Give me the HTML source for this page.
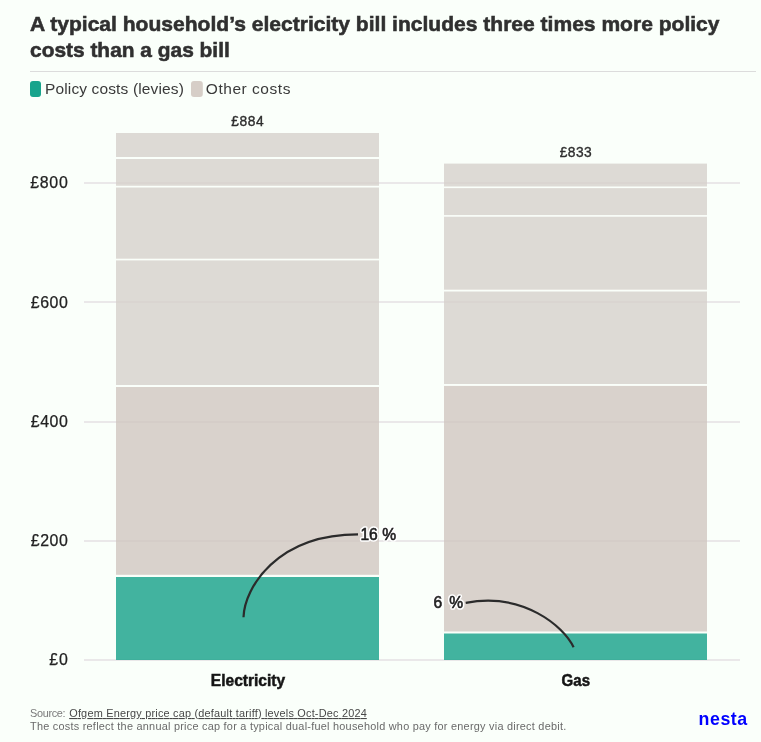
<!DOCTYPE html>
<html lang="en">
<head>
<meta charset="utf-8">
<title>A typical household’s electricity bill includes three times more policy costs than a gas bill</title>
<style>
  html, body { margin: 0; padding: 0; background: #fafffa; }
  body { width: 761px; height: 742px; overflow: hidden; }
  svg { display: block; will-change: transform; font-family: "Liberation Sans", Arial, sans-serif; }
  .t { font-weight: 700; font-size: 20.8px; fill: #303030; stroke: #303030; stroke-width: 0.55px; }
  .lg { font-size: 15.5px; fill: #3a3a3a; }
  .ax { font-size: 15.9px; fill: #222222; stroke: #222222; stroke-width: 0.25px; }
  .tot { font-size: 13.8px; fill: #2e2e2e; stroke: #2e2e2e; stroke-width: 0.35px; }
  .xl { font-size: 16.2px; font-weight: 700; fill: #151515; stroke: #151515; stroke-width: 0.5px; }
  .an { font-size: 15.6px; font-weight: 400; fill: #1e1e1e; stroke: #1e1e1e; stroke-width: 0.6px; }
  .halo { stroke: #ffffff; stroke-width: 3.6px; stroke-linejoin: round; fill: #ffffff; }
  .ft { font-size: 10.9px; fill: #7a7a7a; }
  .fl { fill: #484848; text-decoration: underline; }
  .f2 { fill: #6a6a6a; }
  .logo { font-size: 17.8px; font-weight: 700; fill: #0000ff; }
</style>
</head>
<body>
<svg width="761" height="742" viewBox="0 0 761 742">
  <rect x="0" y="0" width="761" height="742" fill="#fafffa"/>

  <!-- Title -->
  <text class="t" x="30" y="30.8" textLength="689.5" lengthAdjust="spacingAndGlyphs">A typical household’s electricity bill includes three times more policy</text>
  <text class="t" x="30" y="57" textLength="199.8" lengthAdjust="spacingAndGlyphs">costs than a gas bill</text>

  <!-- rule -->
  <rect x="30" y="71" width="726" height="1" fill="#dcdcdc"/>

  <!-- legend -->
  <rect x="30" y="81" width="11" height="16" rx="3" fill="#18a48c"/>
  <text class="lg" x="45" y="93.7" textLength="138.8" lengthAdjust="spacing">Policy costs (levies)</text>
  <rect x="191" y="81" width="11.8" height="16" rx="3" fill="#d6cec7"/>
  <text class="lg" x="205.8" y="93.9" textLength="84.6" lengthAdjust="spacing">Other costs</text>

  <!-- gridlines -->
  <g fill="#eae8e9">
    <rect x="84" y="659" width="656" height="2"/>
    <rect x="84" y="540" width="656" height="2"/>
    <rect x="84" y="421" width="656" height="2"/>
    <rect x="84" y="301" width="656" height="2"/>
    <rect x="84" y="182" width="656" height="2"/>
  </g>

  <!-- y axis labels -->
  <g class="ax" text-anchor="end">
    <text x="67.8" y="665.2" textLength="18.6">£0</text>
    <text x="67.8" y="545.9" textLength="37">£200</text>
    <text x="67.8" y="426.7" textLength="37">£400</text>
    <text x="67.8" y="307.8" textLength="37">£600</text>
    <text x="67.8" y="187.9" textLength="37.6">£800</text>
  </g>

  <!-- Electricity bar -->
  <g opacity="0.8">
    <rect x="116" y="133" width="263" height="24" fill="#d7d1cc"/>
    <rect x="116" y="159" width="263" height="26.8" fill="#d7d1cc"/>
    <rect x="116" y="187.5" width="263" height="71.2" fill="#d7d1cc"/>
    <rect x="116" y="260.4" width="263" height="124.6" fill="#d7d1cc"/>
    <rect x="116" y="387" width="263" height="187.8" fill="#d1c7c1"/>
    <rect x="116" y="577" width="263" height="83" fill="#15a189"/>
  </g>
  <!-- Gas bar -->
  <g opacity="0.8">
    <rect x="444" y="163.6" width="263" height="22.9" fill="#d7d1cc"/>
    <rect x="444" y="188.1" width="263" height="27" fill="#d7d1cc"/>
    <rect x="444" y="216.7" width="263" height="73" fill="#d7d1cc"/>
    <rect x="444" y="291.5" width="263" height="92.5" fill="#d7d1cc"/>
    <rect x="444" y="385.9" width="263" height="245.6" fill="#d1c7c1"/>
    <rect x="444" y="633.5" width="263" height="26.5" fill="#15a189"/>
  </g>

  <!-- totals -->
  <g class="tot" text-anchor="middle">
    <text x="247.5" y="125.8" textLength="32.4">£884</text>
    <text x="575.7" y="156.8" textLength="31.9">£833</text>
  </g>

  <!-- x labels -->
  <g class="xl" text-anchor="middle">
    <text x="248" y="685.7" textLength="74.4" lengthAdjust="spacingAndGlyphs">Electricity</text>
    <text x="575.8" y="685.8" textLength="28.4" lengthAdjust="spacingAndGlyphs">Gas</text>
  </g>

  <!-- annotations -->
  <path d="M243.5,617.2 C244.4,588.2 276.6,534.4 358,534.4" fill="none" stroke="#2b2b2b" stroke-width="2.2"/>
  <path d="M465.7,602.9 C523,591.8 563.9,626.4 573.6,647.3" fill="none" stroke="#2b2b2b" stroke-width="2.2"/>
  <text class="an halo" x="360.4" y="539.6" textLength="35.6">16 %</text>
  <text class="an" x="360.4" y="539.6" textLength="35.6">16 %</text>
  <text class="an halo" x="433.4" y="607.8" textLength="29.6">6 %</text>
  <text class="an" x="433.4" y="607.8" textLength="29.6">6 %</text>

  <!-- footer -->
  <text class="ft" x="30" y="717" textLength="35.6" lengthAdjust="spacing">Source:</text>
  <text class="ft fl" x="69.2" y="717" textLength="297.6" lengthAdjust="spacing">Ofgem Energy price cap (default tariff) levels Oct-Dec 2024</text>
  <text class="ft f2" x="30" y="730.4" textLength="536.2" lengthAdjust="spacing">The costs reflect the annual price cap for a typical dual-fuel household who pay for energy via direct debit.</text>

  <!-- logo -->
  <text class="logo" x="698.6" y="724.7" textLength="48.6">nesta</text>
</svg>
</body>
</html>
